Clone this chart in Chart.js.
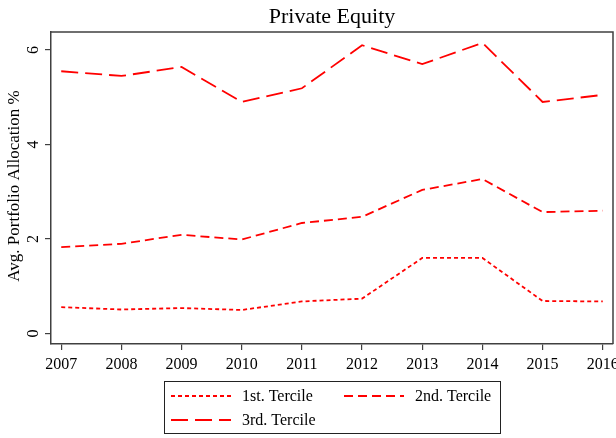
<!DOCTYPE html>
<html>
<head>
<meta charset="utf-8">
<script src="https://cdn.jsdelivr.net/npm/chart.js@4.4.0/dist/chart.umd.min.js"></script>
<style>
  html, body { margin: 0; padding: 0; background: #fff; }
  #wrap { width: 616px; height: 438px; }
</style>
</head>
<body>
<div id="wrap"><canvas id="chart" width="616" height="438"></canvas></div>
<script>
const years = [2007, 2008, 2009, 2010, 2011, 2012, 2013, 2014, 2015, 2016];
const tercile1 = [0.56, 0.51, 0.54, 0.50, 0.68, 0.74, 1.60, 1.60, 0.69, 0.68];
const tercile2 = [1.83, 1.90, 2.09, 1.99, 2.34, 2.47, 3.04, 3.27, 2.57, 2.60];
const tercile3 = [5.55, 5.45, 5.64, 4.90, 5.19, 6.10, 5.70, 6.15, 4.90, 5.05];
const yTicks = [0, 2, 4, 6];
const seriesNames = ['1st. Tercile', '2nd. Tercile', '3rd. Tercile'];

const serif = '"Liberation Serif", "DejaVu Serif", serif';
const axisColor = '#404040';

function toPoints(vals) {
    return vals.map((v, i) => ({ x: years[i], y: v }));
}

// title, rotated y labels, frame and legend
const extras = {
    id: 'extras',
    afterDraw(chart) {
        const ctx = chart.ctx;
        const area = chart.chartArea;
        const yScale = chart.scales.y;

        ctx.save();
        // frame top/right
        ctx.strokeStyle = axisColor;
        ctx.lineWidth = 1.5;
        ctx.beginPath();
        ctx.moveTo(area.left, area.top);
        ctx.lineTo(area.right, area.top);
        ctx.lineTo(area.right, area.bottom);
        ctx.stroke();

        // title
        ctx.fillStyle = '#000';
        ctx.font = '22px ' + serif;
        ctx.textAlign = 'center';
        ctx.textBaseline = 'middle';
        ctx.fillText('Private Equity', (area.left + area.right) / 2, 17);

        // y tick labels, rotated
        ctx.font = '16px ' + serif;
        yTicks.forEach(t => {
            const py = yScale.getPixelForValue(t);
            ctx.save();
            ctx.translate(34, py);
            ctx.rotate(-Math.PI / 2);
            ctx.fillText(String(t), 0, 0);
            ctx.restore();
        });

        // y axis title
        ctx.save();
        ctx.font = '17px ' + serif;
        ctx.translate(15, 186);
        ctx.rotate(-Math.PI / 2);
        ctx.fillText('Avg. Portfolio Allocation %', 0, 0);
        ctx.restore();

        // legend
        ctx.font = '16px ' + serif;
        const box = { x: 164, y: 381, w: 336, h: 52 };
        ctx.strokeStyle = '#222';
        ctx.lineWidth = 1;
        ctx.strokeRect(box.x + 0.5, box.y + 0.5, box.w, box.h);
        const spots = [[171, 396], [344, 396], [171, 420]];
        chart.data.datasets.forEach((ds, i) => {
            const [lx, ly] = spots[i];
            ctx.strokeStyle = ds.borderColor;
            ctx.lineWidth = ds.borderWidth;
            ctx.setLineDash(ds.borderDash);
            ctx.beginPath();
            ctx.moveTo(lx, ly);
            ctx.lineTo(lx + 60, ly);
            ctx.stroke();
            ctx.setLineDash([]);
            ctx.fillStyle = '#000';
            ctx.textAlign = 'left';
            ctx.fillText(ds.label, lx + 71, ly + 1);
        });
        ctx.restore();
    }
};

new Chart(document.getElementById('chart'), {
    type: 'line',
    data: {
        datasets: [
            {
                label: seriesNames[0],
                data: toPoints(tercile1),
                borderColor: '#ff0000',
                borderWidth: 1.8,
                borderDash: [4, 3],
                pointRadius: 0,
                fill: false
            },
            {
                label: seriesNames[1],
                data: toPoints(tercile2),
                borderColor: '#ff0000',
                borderWidth: 1.8,
                borderDash: [9, 5],
                pointRadius: 0,
                fill: false
            },
            {
                label: seriesNames[2],
                data: toPoints(tercile3),
                borderColor: '#ff0000',
                borderWidth: 1.8,
                borderDash: [17, 7],
                pointRadius: 0,
                fill: false
            }
        ]
    },
    options: {
        responsive: false,
        animation: false,
        layout: { padding: { top: 32, right: 3, bottom: 0, left: 0 } },
        plugins: {
            legend: { display: false },
            title: { display: false },
            tooltip: { enabled: false }
        },
        scales: {
            x: {
                type: 'linear',
                min: 2006.83,
                max: 2016.17,
                afterBuildTicks: scale => { scale.ticks = years.map(v => ({ value: v })); },
                afterFit: scale => {
                    scale.height = 94;
                    scale.paddingLeft = 0;
                    scale.paddingRight = 0;
                },
                ticks: {
                    color: '#000',
                    font: { family: serif, size: 16 },
                    padding: 5,
                    maxRotation: 0,
                    callback: v => String(v)
                },
                grid: {
                    drawOnChartArea: false,
                    drawTicks: true,
                    tickLength: 6,
                    color: axisColor,
                    lineWidth: 1.2
                },
                border: { display: true, color: axisColor, width: 1.5 }
            },
            y: {
                min: -0.22,
                max: 6.38,
                afterBuildTicks: scale => { scale.ticks = yTicks.map(v => ({ value: v })); },
                afterFit: scale => {
                    scale.width = 51;
                    scale.paddingTop = 0;
                    scale.paddingBottom = 0;
                },
                ticks: { color: 'rgba(0,0,0,0)', font: { family: serif, size: 16 } },
                grid: {
                    drawOnChartArea: false,
                    drawTicks: true,
                    tickLength: 6,
                    color: axisColor,
                    lineWidth: 1.2
                },
                border: { display: true, color: axisColor, width: 1.5 }
            }
        }
    },
    plugins: [extras]
});
</script>
</body>
</html>
